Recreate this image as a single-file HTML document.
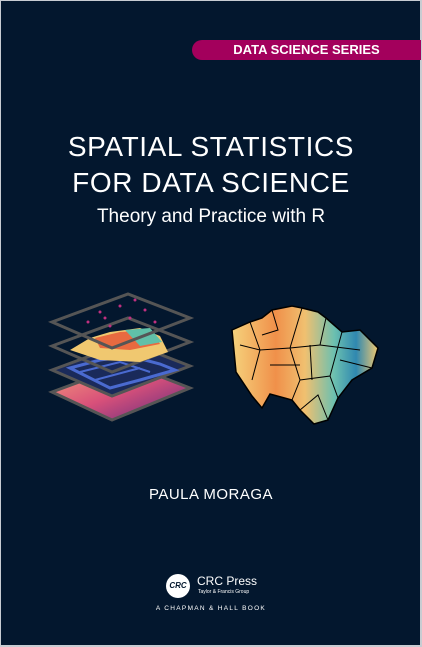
<!DOCTYPE html>
<html><head><meta charset="utf-8"><style>
html,body{margin:0;padding:0;}
body{width:422px;height:647px;background:#c8ccd2;position:relative;overflow:hidden;font-family:"Liberation Sans",sans-serif;}
#cover{position:absolute;left:1px;top:1px;width:419px;height:644px;background:#03172e;}
.t{position:absolute;left:0;width:422px;text-align:center;color:#fff;}
</style></head><body>
<div id="cover"></div>
<div style="position:absolute;left:192px;top:40px;width:229px;height:20px;background:#a3005c;border-radius:10px 0 0 10px;"></div>
<div style="position:absolute;left:192px;top:40px;width:229px;height:20px;line-height:20px;text-align:center;color:#fff;font-weight:bold;font-size:13px;">DATA SCIENCE SERIES</div>
<div class="t" style="top:131px;font-size:28px;letter-spacing:0.6px;">SPATIAL STATISTICS</div>
<div class="t" style="top:167px;font-size:28px;letter-spacing:0.6px;">FOR DATA SCIENCE</div>
<div class="t" style="top:206px;font-size:19px;">Theory and Practice with R</div>
<svg width="422" height="647" style="position:absolute;left:0;top:0">
<defs>
<linearGradient id="g1" x1="0" y1="0" x2="1" y2="1"><stop offset="0" stop-color="#f7a07a"/><stop offset="0.5" stop-color="#d8507a"/><stop offset="1" stop-color="#5a2a80"/></linearGradient>
<linearGradient id="g2" x1="0" y1="0" x2="1" y2="0"><stop offset="0" stop-color="#f5d27c"/><stop offset="0.3" stop-color="#f0904a"/><stop offset="0.5" stop-color="#f0c070"/><stop offset="0.7" stop-color="#6cc0b0"/><stop offset="0.85" stop-color="#2f88b0"/><stop offset="1" stop-color="#f0c870"/></linearGradient>
</defs>
<polygon points="52,392 128,364 190,388 112,420" fill="url(#g1)" stroke="#555" stroke-width="3"/>
<polygon points="52,370 128,342 190,366 112,396" fill="#1a2a5a" stroke="#555" stroke-width="3"/>
<path d="M70,368 L100,360 L130,356 L160,364 L175,370 L140,380 L110,388 Z" fill="none" stroke="#4a6ad0" stroke-width="3"/>
<path d="M80,372 L120,362 L150,372 M95,380 L140,368" fill="none" stroke="#4a6ad0" stroke-width="2"/>
<polygon points="52,346 128,318 190,342 112,372" fill="none" stroke="#555" stroke-width="3"/>
<path d="M70,350 L90,338 L110,332 L140,328 L160,336 L168,352 L140,362 L100,360 Z" fill="#f0c870"/>
<path d="M95,338 L120,332 L150,330 L160,344 L130,350 L100,348 Z" fill="#e86a40"/>
<path d="M125,330 L150,328 L162,342 L140,346 Z" fill="#60c0a8"/>
<polygon points="52,322 128,294 190,318 112,348" fill="none" stroke="#555" stroke-width="3"/>
<g fill="#c03080"><circle cx="100" cy="312" r="1.5"/><circle cx="120" cy="306" r="1.5"/><circle cx="130" cy="318" r="1.5"/><circle cx="145" cy="310" r="1.5"/><circle cx="88" cy="322" r="1.5"/><circle cx="110" cy="326" r="1.5"/><circle cx="155" cy="322" r="1.5"/><circle cx="135" cy="300" r="1.5"/><circle cx="105" cy="318" r="1.5"/></g>
<path d="M232,330 L250,322 L262,318 L272,310 L292,306 L302,308 L318,312 L326,318 L342,332 L360,330 L378,348 L372,368 L352,380 L338,398 L328,420 L314,424 L300,410 L292,400 L270,394 L262,408 L252,396 L236,372 Z" fill="url(#g2)" stroke="#000" stroke-width="1.5"/>
<g stroke="#000" stroke-width="1" fill="none"><path d="M250,322 L260,350 L290,348 L302,308"/><path d="M260,350 L252,380"/><path d="M290,348 L300,380 L292,400"/><path d="M300,380 L330,376 L342,332"/><path d="M330,376 L338,398"/><path d="M290,348 L320,345 L326,318"/><path d="M320,345 L360,350"/><path d="M240,345 L260,350"/><path d="M272,310 L278,330 L262,335"/><path d="M270,365 L300,365"/><path d="M310,345 L312,380"/><path d="M340,360 L372,368"/><path d="M300,410 L318,395 L328,420"/></g>
</svg>
<div class="t" style="top:486px;font-size:15px;letter-spacing:0.5px;">PAULA MORAGA</div>
<div style="position:absolute;left:166px;top:574px;width:24px;height:24px;border-radius:50%;background:#fff;color:#03172e;font-size:8px;font-weight:bold;font-style:italic;line-height:24px;text-align:center;">CRC</div>
<div style="position:absolute;left:197px;top:574px;color:#fff;font-size:12px;">CRC Press</div>
<div style="position:absolute;left:198px;top:589px;color:#fff;font-size:5px;">Taylor &amp; Francis Group</div>
<div class="t" style="top:605px;font-size:6.5px;letter-spacing:1.3px;">A CHAPMAN &amp; HALL BOOK</div>
</body></html>
